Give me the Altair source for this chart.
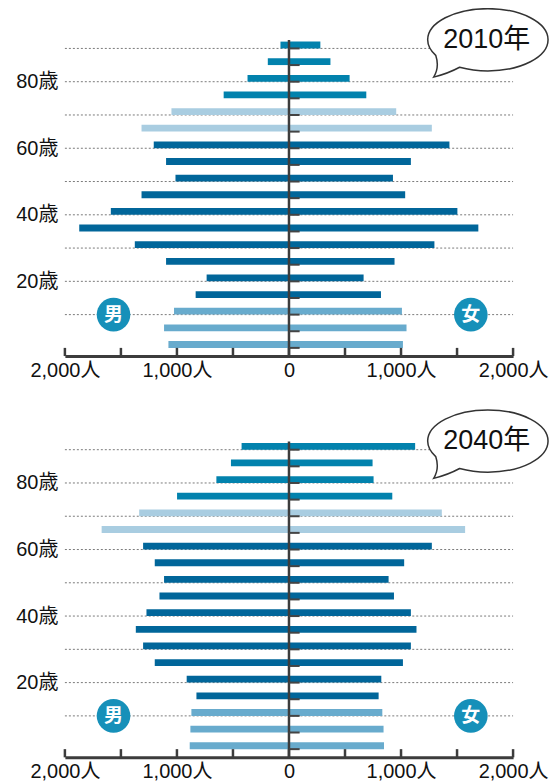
import math
import altair as alt
import pandas as pd

# ---- data ----
ages = [0, 5, 10, 15, 20, 25, 30, 35, 40, 45, 50, 55, 60, 65, 70, 75, 80, 85, 90]

male_2010 = [1076, 1115, 1026, 833, 735, 1097, 1376, 1872, 1590, 1316,
             1013, 1097, 1207, 1316, 1049, 583, 370, 189, 76]
female_2010 = [1017, 1049, 1008, 821, 666, 942, 1298, 1690, 1503, 1037,
               928, 1088, 1432, 1275, 957, 690, 541, 370, 280]
male_2040 = [886, 880, 871, 826, 913, 1198, 1302, 1367, 1272, 1156,
             1115, 1198, 1302, 1672, 1337, 999, 648, 518, 423]
female_2040 = [848, 844, 833, 800, 824, 1017, 1088, 1138, 1088, 937,
               889, 1028, 1275, 1572, 1364, 922, 755, 746, 1126]

year_labels = ["2010年", "2040年"]
sex_labels = ["男", "女"]
x_tick_values = [-2000, -1500, -1000, -500, 0, 500, 1000, 1500, 2000]
x_label_values = [-2000, -1000, 0, 1000, 2000]
y_label_values = [20, 40, 60, 80]
grid_ages = [10, 20, 30, 40, 50, 60, 70, 80, 90]

# ---- styling ----
FONT = "Liberation Sans, Noto Sans CJK JP, sans-serif"
CJK = "Noto Sans CJK JP"
W, H = 449, 349
XDOM = [-2000, 2000]
YDOM = [-2.46, 102.24]
AXIS_COLOR = "#3c3c3c"
GROUP_DOMAIN = ["old", "senior", "working", "young"]
GROUP_RANGE = ["#0282ad", "#a9cde1", "#01669a", "#68abcd"]
BADGE_COLOR = "#1690b9"


def bubble_path(ry=0.517):
    """Speech-bubble outline (unit symbol coordinates) built from cubic arcs."""
    def pt(t):
        return math.cos(t), ry * math.sin(t)

    def seg(a, b):
        k = 4.0 / 3.0 * math.tan((b - a) / 4.0)
        x0, y0 = math.cos(a), math.sin(a)
        x3, y3 = math.cos(b), math.sin(b)
        x1, y1 = x0 - k * y0, y0 + k * x0
        x2, y2 = x3 + k * y3, y3 - k * x3
        return "C {:.4f} {:.4f} {:.4f} {:.4f} {:.4f} {:.4f}".format(
            x1, ry * y1, x2, ry * y2, x3, ry * y3)

    d = math.radians
    cuts = [150, 180, 270, 360, 450, 478]
    sx, sy = pt(d(cuts[0]))
    parts = ["M {:.4f} {:.4f}".format(sx, sy)]
    for a, b in zip(cuts[:-1], cuts[1:]):
        parts.append(seg(d(a), d(b)))
    parts.append("Q -0.66 0.56 -0.9 0.62")
    parts.append("Q -0.8 0.46 {:.4f} {:.4f} Z".format(sx, sy))
    return " ".join(parts)


BUBBLE = bubble_path()

X_AXIS = alt.Axis(
    values=x_label_values,
    labelExpr="datum.value == 0 ? '0' : format(abs(datum.value), ',') + '人'",
    ticks=False, grid=False, domain=True, domainColor=AXIS_COLOR,
    domainWidth=3, labelFontSize=20, labelFont=FONT, labelColor="#111111",
    labelPadding=4, labelFlush=False, title=None, orient="bottom")
Y_AXIS = alt.Axis(
    values=y_label_values, labelExpr="datum.value + '歳'",
    ticks=False, domain=False, grid=False, labelFontSize=20,
    labelFont=FONT, labelColor="#111111", labelPadding=7, title=None)


def panel(year, male, female):
    rows = []
    for a, m, f in zip(ages, male, female):
        rows.append({"sex": "男", "age": a, "val": -m})
        rows.append({"sex": "女", "age": a, "val": f})
    df = pd.DataFrame(rows)

    xs = alt.Scale(domain=XDOM, nice=False, zero=False)
    ys = alt.Scale(domain=YDOM, nice=False, zero=False)

    def X(*args, **kw):
        return alt.X(*args, scale=xs, axis=X_AXIS, **kw)

    def Y(*args, **kw):
        return alt.Y(*args, scale=ys, axis=Y_AXIS, **kw)

    grid = alt.Chart(pd.DataFrame({"age": grid_ages})).mark_rule(
        color="#7a7a7a", strokeWidth=1, strokeDash=[2, 2]
    ).encode(
        x=X(datum=-2000), x2=alt.X2(datum=2000), y=Y("age:Q"),
    )

    bubble = alt.Chart(pd.DataFrame({"t": [year]})).mark_point(
        shape=BUBBLE, size=14544, filled=True, fill="white", stroke="#333333",
        strokeWidth=1.5, opacity=1, fillOpacity=1
    ).encode(x=X(datum=1775), y=Y(datum=92.6))

    bars = alt.Chart(df).transform_calculate(
        top="datum.age + 2.05",
        grp="datum.age >= 75 ? 'old' : datum.age >= 65 ? 'senior' : datum.age >= 15 ? 'working' : 'young'",
    ).mark_rect().encode(
        x=X("val:Q"),
        x2=alt.X2(datum=0),
        y=Y("age:Q"),
        y2=alt.Y2("top:Q"),
        color=alt.Color("grp:N", scale=alt.Scale(domain=GROUP_DOMAIN, range=GROUP_RANGE), legend=None),
    )

    zero_line = alt.Chart(pd.DataFrame({"k": [0]})).mark_rule(
        color=AXIS_COLOR, strokeWidth=2.5
    ).encode(x=X(datum=0), y=Y(datum=92.5), y2=alt.Y2(datum=YDOM[0]))

    age_ticks = alt.Chart(pd.DataFrame({"age": ages})).mark_rule(
        color="#444444", strokeWidth=2
    ).encode(x=X(datum=0), x2=alt.X2(datum=95), y=Y("age:Q"))

    x_ticks = alt.Chart(pd.DataFrame({"v": x_tick_values})).mark_rule(
        color=AXIS_COLOR, strokeWidth=2.5
    ).encode(x=X("v:Q"), y=Y(datum=YDOM[0]), y2=alt.Y2(datum=0))

    layers = [grid, bubble, bars, zero_line, age_ticks, x_ticks]

    for lab, xp in zip(sex_labels, [-1566, 1623]):
        src = pd.DataFrame({"lab": [lab]})
        layers.append(alt.Chart(src).mark_circle(
            size=1134, color=BADGE_COLOR, opacity=1
        ).encode(x=X(datum=xp), y=Y(datum=10)))
        layers.append(alt.Chart(src).mark_text(
            font=CJK, fontSize=19, fontWeight="bold", color="white",
            align="center", baseline="middle"
        ).encode(x=X(datum=xp), y=Y(datum=10), text="lab:N"))

    year_text = alt.Chart(pd.DataFrame({"t": [year]})).mark_text(
        font=FONT, fontSize=27, color="#111111", align="center", baseline="middle"
    ).encode(x=X(datum=1765), y=Y(datum=92.6), text="t:N")
    layers.append(year_text)

    return alt.layer(*layers).properties(width=W, height=H)


p1 = panel(year_labels[0], male_2010, female_2010)
p2 = panel(year_labels[1], male_2040, female_2040)

chart = alt.vconcat(p1, p2, spacing=26).properties(
    padding={"left": 7, "top": -4, "right": 0, "bottom": 0}
).configure_view(stroke=None)

chart.save("out.html", embed_options={"renderer": "svg", "actions": False})
